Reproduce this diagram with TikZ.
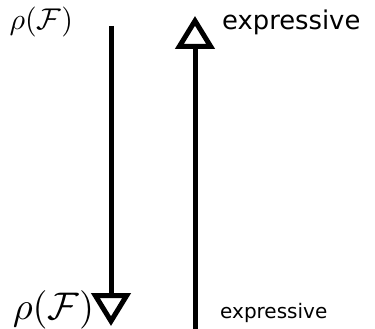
\documentclass[tikz,border=0pt]{standalone}
\usepackage{fontspec}
\setsansfont{DejaVu Sans}
\usetikzlibrary{arrows.meta}
\begin{document}
\begin{tikzpicture}[x=1pt,y=-1pt,
  arr/.style={line width=5pt,-{Triangle[open,length=33pt,width=39pt]}},
  lab/.style={inner sep=0pt,anchor=base west}]
\useasboundingbox (0,0) rectangle (375,329);
\coordinate (a1) at (111,26);
\coordinate (a2) at (111,326);
\coordinate (b1) at (195,335);
\coordinate (b2) at (195,16);
\draw[arr] (a1) -- (a2);
\draw[arr] (b1) -- (b2);
\node[lab,scale=3.0,transform shape] (rs) at (9,30) {$\rho(\mathcal{F})$};
\node[lab,scale=3.85,transform shape] (rl) at (12,319) {$\rho(\mathcal{F})$};
\node[lab] (el) at (222,30) {\sffamily\fontsize{25.8}{30}\selectfont expressive};
\node[lab] (es) at (220,318) {\sffamily\fontsize{20}{24}\selectfont expressive};
\end{tikzpicture}
\end{document}
